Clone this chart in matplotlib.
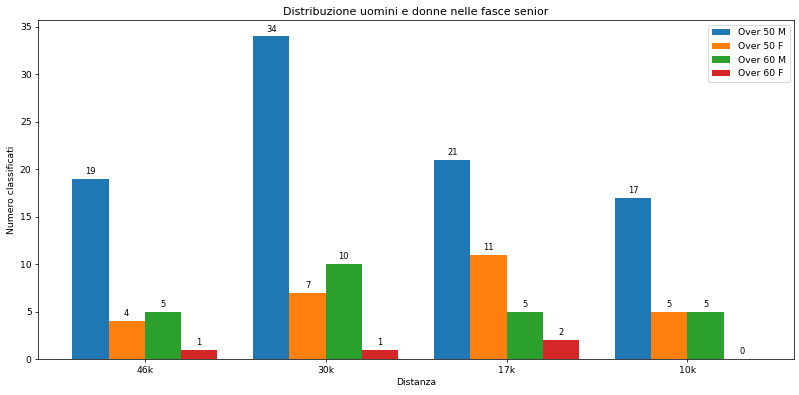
import matplotlib
matplotlib.use("Agg")
import matplotlib.pyplot as plt
import numpy as np

categories = ["46k", "30k", "17k", "10k"]
series_names = ["Over 50 M", "Over 50 F", "Over 60 M", "Over 60 F"]
over50_m = [19, 34, 21, 17]
over50_f = [4, 7, 11, 5]
over60_m = [5, 10, 5, 5]
over60_f = [1, 1, 2, 0]
series = [over50_m, over50_f, over60_m, over60_f]

dpi = 66.6
fig, ax = plt.subplots(figsize=(799 / dpi, 395 / dpi), dpi=dpi)
x = np.arange(len(categories))
width = 0.2
for i, (name, vals) in enumerate(zip(series_names, series)):
    bars = ax.bar(x + (i - 1.5) * width, vals, width, label=name)
    ax.bar_label(bars, padding=3, fontsize=9)

ax.set_xticks(x)
ax.set_xticklabels(categories)
ax.set_xlabel("Distanza")
ax.set_ylabel("Numero classificati")
ax.set_title("Distribuzione uomini e donne nelle fasce senior")
ax.legend(loc="upper right")
fig.subplots_adjust(left=0.0476, right=0.994, top=0.949, bottom=0.091)
fig.savefig("out.png", dpi=dpi)
